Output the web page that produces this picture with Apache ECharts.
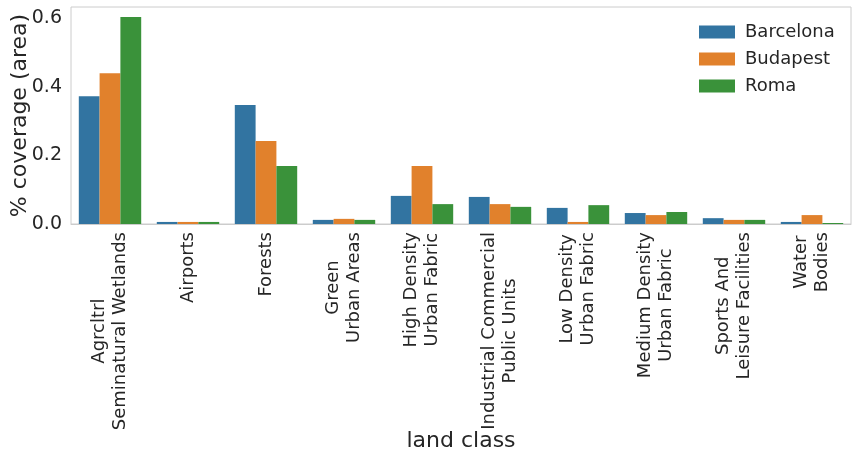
<!DOCTYPE html>
<html>
<head>
<meta charset="utf-8">
<script src="https://cdn.jsdelivr.net/npm/echarts@6/dist/echarts.min.js"></script>
<style>
  html, body { margin: 0; padding: 0; background: #fff; }
  #root { width: 858px; height: 462px; }
</style>
</head>
<body>
<div id="root"></div>
<script>
// land classes, two lines where the original wraps
var landClasses = [
  'Agrcltrl\nSeminatural Wetlands',
  'Airports',
  'Forests',
  'Green\nUrban Areas',
  'High Density\nUrban Fabric',
  'Industrial Commercial\nPublic Units',
  'Low Density\nUrban Fabric',
  'Medium Density\nUrban Fabric',
  'Sports And\nLeisure Facilities',
  'Water\nBodies'
];
var barcelona = [0.373, 0.006, 0.347, 0.012, 0.082, 0.079, 0.047, 0.032, 0.017, 0.006];
var budapest  = [0.440, 0.006, 0.242, 0.015, 0.169, 0.058, 0.006, 0.026, 0.012, 0.026];
var roma      = [0.604, 0.006, 0.169, 0.012, 0.058, 0.050, 0.055, 0.035, 0.012, 0.003];
var yTicks = [0, 0.2, 0.4, 0.6];

var cities = ['Barcelona', 'Budapest', 'Roma'];
var colors = ['#3274a1', '#e1812c', '#3a923a'];
var font = 'DejaVu Sans';
var ink = '#262626';

function makeBar(name, data) {
  return {
    name: name,
    type: 'bar',
    barGap: '0%',
    barCategoryGap: '20%',
    data: data
  };
}

var option = {
  animation: false,
  color: colors,
  textStyle: { fontFamily: font, color: ink },
  grid: {
    show: true,
    left: 71,
    right: 7,
    top: 7,
    bottom: 238,
    outerBoundsMode: 'none',
    containLabel: false,
    borderColor: '#cccccc',
    borderWidth: 1
  },
  legend: {
    orient: 'vertical',
    left: 694,
    top: 18,
    itemWidth: 36,
    itemHeight: 13,
    itemGap: 9,
    icon: 'rect',
    textStyle: { fontSize: 18, color: ink, fontFamily: font, padding: [0, 0, 0, 5] },
    data: cities
  },
  xAxis: {
    type: 'category',
    data: landClasses,
    name: 'land class',
    nameLocation: 'middle',
    nameGap: 206,
    nameMoveOverlap: false,
    nameTextStyle: { fontSize: 22, color: ink, fontFamily: font },
    axisLine: { lineStyle: { color: '#cccccc' } },
    axisTick: { show: false },
    axisLabel: {
      rotate: 90,
      interval: 0,
      margin: 8,
      fontSize: 18,
      color: ink,
      fontFamily: font,
      lineHeight: 21,
      formatter: function(value) {
        // centre each line inside the rotated block
        return value.split('\n').map(function(line) {
          return '{c|' + line + '}';
        }).join('\n');
      },
      rich: {
        c: { align: 'center', fontSize: 18, color: ink, fontFamily: font, lineHeight: 21 }
      }
    }
  },
  yAxis: {
    type: 'value',
    min: 0,
    max: 0.633,
    interval: 0.2,
    name: '% coverage (area)',
    nameLocation: 'middle',
    nameGap: 40,
    nameMoveOverlap: false,
    nameTextStyle: { fontSize: 22, color: ink, fontFamily: font },
    axisLine: { show: false },
    axisTick: { show: false },
    splitLine: { show: false },
    axisLabel: {
      fontSize: 19,
      color: ink,
      fontFamily: font,
      margin: 9,
      customValues: yTicks,
      formatter: function(v) { return v.toFixed(1); }
    }
  },
  series: [
    makeBar('Barcelona', barcelona),
    makeBar('Budapest', budapest),
    makeBar('Roma', roma)
  ]
};

var myChart = echarts.init(document.getElementById('root'));
myChart.setOption(option);
</script>
</body>
</html>
